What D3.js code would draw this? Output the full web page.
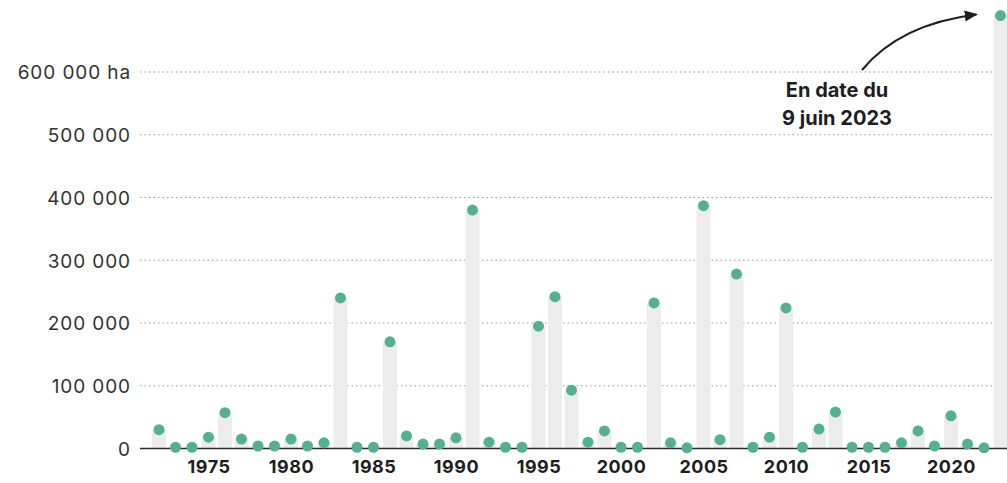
<!DOCTYPE html>
<html lang="fr">
<head>
<meta charset="utf-8">
<script src="https://cdn.jsdelivr.net/npm/d3@7"></script>
<style>
  html, body { margin: 0; padding: 0; background: #fff; }
  svg { display: block; font-family: Inter, "Open Sans", sans-serif; }
</style>
</head>
<body>
<svg id="chart" width="1007" height="483"></svg>
<script>
// Superficie brûlée par année (hectares)
const years = d3.range(1972, 2024);
const hectares = [
  30000, 2000, 2000, 18000, 57000, 15000, 4000, 4000, 15000, 4000,
  9000, 240000, 2000, 2000, 170000, 20000, 7000, 7000, 17000, 380000,
  10000, 2000, 2000, 195000, 242000, 93000, 10000, 28000, 2000, 2000,
  232000, 9000, 1000, 387000, 14000, 278000, 2000, 18000, 224000, 2000,
  31000, 58000, 2000, 2000, 2000, 9000, 28000, 4000, 52000, 7000,
  1000, 690000
];
const yTicks = [0, 100000, 200000, 300000, 400000, 500000, 600000];
const xTicks = [1975, 1980, 1985, 1990, 1995, 2000, 2005, 2010, 2015, 2020];
const noteLines = ["En date du", "9 juin 2023"];

const data = years.map((y, i) => ({ year: y, value: hectares[i] }));

const svg = d3.select("#chart");
const x = d3.scaleLinear().domain([1975, 2020]).range([208.5, 951]);
const y = d3.scaleLinear().domain([0, 600000]).range([448.5, 72]);
const left = 140, right = 1007;

const fmt = v => {
  const s = d3.format(",")(v).replace(/,/g, " ");
  return v === 600000 ? s + " ha" : s;
};

// Grille pointillée
svg.append("g").selectAll("line")
  .data(yTicks.filter(d => d > 0))
  .join("line")
  .attr("x1", left).attr("x2", right)
  .attr("y1", d => y(d)).attr("y2", d => y(d))
  .attr("stroke", "#9a9a9a")
  .attr("stroke-width", 1.2)
  .attr("stroke-dasharray", "1.5,3");

// Axe vertical : étiquettes
const yAxis = d3.axisLeft(y).tickValues(yTicks).tickSize(0).tickPadding(0).tickFormat(fmt);
svg.append("g")
  .attr("transform", `translate(${left - 9},0)`)
  .call(yAxis)
  .call(g => g.select(".domain").remove())
  .call(g => g.selectAll("text")
    .attr("font-size", 19)
    .attr("letter-spacing", 0.9)
    .attr("fill", "#333")
    .attr("font-family", "Inter, sans-serif")
    .attr("dy", "0.36em"));

// Barres pâles
const bw = 14;
svg.append("g").selectAll("rect")
  .data(data)
  .join("rect")
  .attr("x", d => x(d.year) - bw / 2)
  .attr("width", bw)
  .attr("y", d => y(d.value))
  .attr("height", d => y(0) - y(d.value))
  .attr("fill", "#ececec");

// Ligne de base
svg.append("line")
  .attr("x1", left).attr("x2", right)
  .attr("y1", y(0)).attr("y2", y(0))
  .attr("stroke", "#2b2b2b")
  .attr("stroke-width", 1.5);

// Axe horizontal : années
const xAxis = d3.axisBottom(x).tickValues(xTicks).tickSize(0).tickPadding(0).tickFormat(d3.format("d"));
svg.append("g")
  .attr("transform", `translate(0,${y(0) + 12})`)
  .call(xAxis)
  .call(g => g.select(".domain").remove())
  .call(g => g.selectAll("text")
    .attr("font-size", 18)
    .attr("font-weight", 700)
    .attr("letter-spacing", 0.5)
    .attr("fill", "#1e1e1e")
    .attr("font-family", "Inter, sans-serif")
    .attr("dy", "0.71em"));

// Points
svg.append("g").selectAll("circle")
  .data(data)
  .join("circle")
  .attr("cx", d => x(d.year))
  .attr("cy", d => y(d.value))
  .attr("r", 5.5)
  .attr("fill", "#55b092");

// Annotation
svg.append("defs").append("marker")
  .attr("id", "head")
  .attr("viewBox", "0 0 10 10")
  .attr("refX", 9).attr("refY", 5)
  .attr("markerWidth", 13).attr("markerHeight", 11)
  .attr("markerUnits", "userSpaceOnUse")
  .attr("orient", "auto")
  .attr("preserveAspectRatio", "none")
  .append("path")
  .attr("d", "M0,0 L10,5 L0,10 z")
  .attr("fill", "#1e1e1e");

const last = data[data.length - 1];
const ax = x(last.year) - 24, ay = y(last.value) - 1;
svg.append("path")
  .attr("d", `M862,70 Q900,24 ${ax},${ay}`)
  .attr("fill", "none")
  .attr("stroke", "#1e1e1e")
  .attr("stroke-width", 2)
  .attr("marker-end", "url(#head)");

svg.append("g").selectAll("text")
  .data(noteLines)
  .join("text")
  .attr("x", 837)
  .attr("y", (d, i) => 97 + i * 28)
  .attr("text-anchor", "middle")
  .attr("font-size", 20)
  .attr("font-weight", 700)
  .attr("fill", "#1e1e1e")
  .attr("font-family", "Inter, sans-serif")
  .text(d => d);
</script>
</body>
</html>
